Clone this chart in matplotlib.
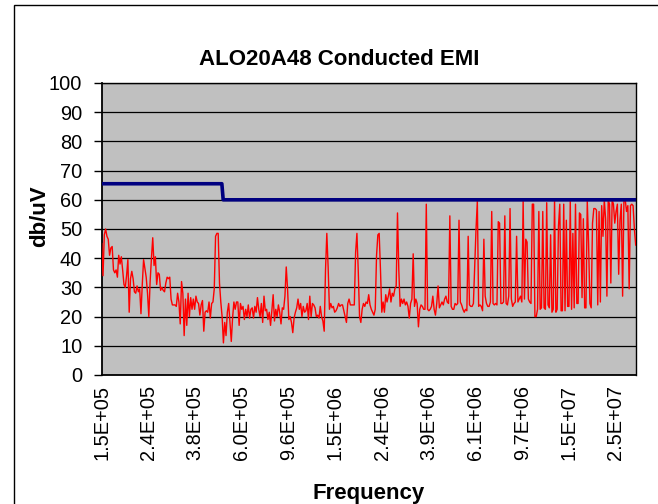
import matplotlib
matplotlib.use("Agg")
import matplotlib.pyplot as plt
from matplotlib.patches import Rectangle
import numpy as np

# sweep: 401 log-spaced points 150 kHz .. 30 MHz, a label every 35 points
sweep_points = 401
label_step = 35
tick_labels = ["1.5E+05", "2.4E+05", "3.8E+05", "6.0E+05", "9.6E+05", "1.5E+06",
               "2.4E+06", "3.9E+06", "6.1E+06", "9.7E+06", "1.5E+07", "2.5E+07"]

emi_low = [45, 34, 48, 50, 47.5, 46.5, 41, 43.5, 44, 36, 35, 36, 33.5, 41, 38, 40.5,
           36, 31, 30, 34, 39.5, 21.5, 33, 35.5, 33, 28.5, 28, 30.5, 28.5, 29.5, 21,
           31, 39.5, 36.5, 33.5, 28, 20, 32, 40, 47, 37.5, 40.5, 31, 35, 34.5, 29, 30,
           29, 28.5, 31.5, 33.5, 33, 33.5, 26, 24, 24, 24, 23.5, 28, 25, 17.5, 32, 28,
           13.5, 26, 17, 28, 20, 26.5, 22.5, 26, 22.5, 27, 25, 24.5, 20.5, 24, 25.5,
           15, 21.5, 22]
emi_mid1 = [21.5, 25, 19.5, 24.5, 25, 29.5, 47.5, 48.5, 48.5, 31.5, 25, 20, 11, 18,
            13.5, 21.5, 24.5, 18, 11.5, 19.5, 25, 22.5, 25, 25, 17, 24.5, 22.5, 23.5,
            19, 22.5, 20, 24, 19.5, 22.5, 23, 19.5, 23.5, 21.5, 26.5, 22.5, 20, 24.5,
            18, 27, 22, 22.5, 19, 21.5, 17, 22, 27.5, 18.5, 22.5, 20, 24, 21.5, 17.5,
            23, 22.5, 27, 37, 29.5, 19, 20, 18, 14.5, 19.5, 21.5, 23, 26, 22.5, 24.5,
            20, 23.5, 21.5, 22, 24.5, 19, 27]
emi_mid2 = [20, 24.5, 24, 23, 20, 20.5, 19.5, 23.5, 20, 18.5, 15, 36, 48.5, 37, 22.5,
            24.5, 23, 23.5, 21.5, 22, 23, 24.5, 23.5, 24, 24, 22, 20, 18, 24.5, 26, 24,
            24, 24, 24, 42, 48.5, 36, 20, 18, 22.5, 24.5, 23.5, 25, 24.5, 27.5, 24,
            22.5, 21.5, 20.5, 22.5, 41, 48, 48.5, 36, 21.5, 25, 21.5, 27.5, 25, 27,
            29.5, 25, 28, 27, 29.5, 30.5, 55.5, 36, 23.5, 26, 24.5, 26, 24, 25, 23.5,
            19.5, 24.5, 26, 41.5, 23.5, 26, 24.5]
emi_high1 = [16.5, 22.5, 24, 23.5, 22.5, 22.5, 58.5, 22.5, 22, 22.5, 23.5, 27, 22.5,
             20.5, 24.5, 30.5, 23, 24, 25, 24, 26, 27, 25, 24.5, 54.5, 23.5, 22.5,
             22.5, 24.5, 24, 24.5, 53, 25, 24, 22.5, 21.5, 22.5, 22, 47.5, 24, 23.5,
             23.5, 24.5, 37, 50, 59.5, 23.5, 24, 23.5, 22, 46.5, 27, 24.5, 23.5, 23.5,
             25, 56, 24.5, 24, 24.5, 24, 52.5, 52, 24.5, 24.5, 25, 54.5, 24.5, 24, 27,
             57, 26, 23.5, 24.5, 25, 47.5, 25, 26, 27, 25, 59.5, 26, 46.5]
emi_high2 = [45.5, 26, 25, 24.5, 58.5, 58.5, 20, 20, 22.5, 56, 22.5, 23, 56, 23, 22.5,
             59, 24, 23, 48, 21.5, 22.5, 60, 21.5, 22.5, 51, 58.5, 22, 22, 58.5, 22,
             53, 23.5, 23.5, 59.5, 22.5, 48.5, 23, 58.5, 24.5, 24.5, 55.5, 55, 26.5,
             53.5, 23, 23, 59.5, 45, 24.5, 23, 52, 57, 57, 56.5, 24, 56, 25, 58, 47.5,
             60, 53.5, 27, 60, 58.5, 31.5, 60, 58.5, 52, 56, 58.5, 34.5, 53, 58.5, 27,
             59.5, 60, 56, 58, 29.5, 58, 58.5, 58, 50, 44.5]

# limit line (sweep index, db/uV)
limit_idx = [0, 90, 91, 400]
limit_db = [65.5, 65.5, 60, 60]

emi_db = emi_low + emi_mid1 + emi_mid2 + emi_high1 + emi_high2
x = np.linspace(0, sweep_points - 1, len(emi_db))

plt.rcParams['font.family'] = ['Liberation Sans', 'DejaVu Sans']

fig = plt.figure(figsize=(6.58, 5.04), dpi=100)
W, H = 658.0, 504.0
ax = fig.add_axes([101.7 / W, 1 - 375 / H, (635.7 - 101.7) / W, (375 - 83) / H])
ax.set_facecolor('#C0C0C0')

# outer chart border (runs off the right and bottom of the picture)
fig.patches.append(Rectangle((14 / W, -0.1), 1.2, 1.1 - 5 / H, transform=fig.transFigure,
                             fill=False, edgecolor='black', linewidth=1))

ax.plot(x, emi_db, color='#FF0000', linewidth=1.0, zorder=3)
ax.plot(limit_idx, limit_db, color='#000080', linewidth=2.6, zorder=4)

ax.set_xlim(0, sweep_points - 1)
ax.set_ylim(0, 100)
ax.set_yticks(np.arange(0, 101, 10))
ax.set_xticks(np.arange(0, sweep_points, label_step)[:len(tick_labels)])
ax.set_xticklabels(tick_labels, rotation=90)
ax.tick_params(axis='y', length=6, width=1, direction='out', labelsize=14.4, pad=8)
ax.tick_params(axis='x', length=0, labelsize=14.4, pad=7)
ax.yaxis.grid(True, color='black', linewidth=0.9)
ax.set_axisbelow(True)
for s in ax.spines.values():
    s.set_color('black')
    s.set_linewidth(1)
ax.spines['left'].set_linewidth(1.3)
ax.spines['bottom'].set_linewidth(1.3)

fig.text(339 / W, 1 - 65 / H, "ALO20A48 Conducted EMI", ha='center', va='baseline',
         fontsize=16, fontweight='bold')
fig.text(368.7 / W, 1 - 499 / H, "Frequency", ha='center', va='baseline',
         fontsize=16, fontweight='bold')
fig.text(40 / W, 1 - 216 / H, "db/uV", ha='center', va='center', rotation=90,
         fontsize=16, fontweight='bold')

fig.savefig('out.png', dpi=100)
